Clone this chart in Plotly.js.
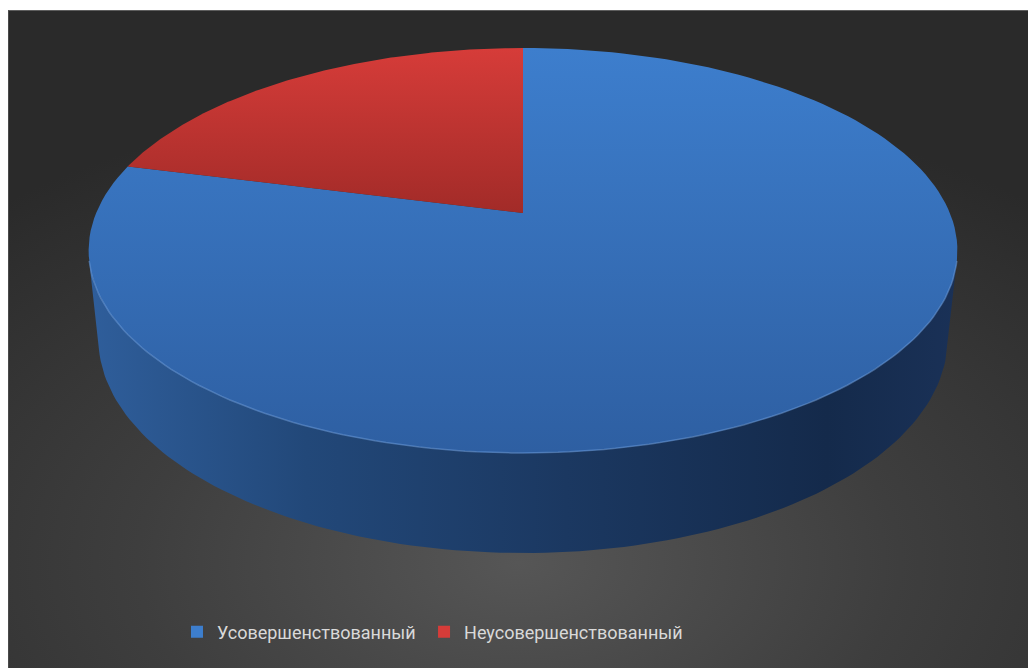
<!DOCTYPE html>
<html>
<head>
<meta charset="utf-8">
<script src="https://cdn.plot.ly/plotly-3.0.1.min.js"></script>
<style>
  html, body { margin: 0; padding: 0; background: #ffffff; }
  #chart {
    position: absolute; left: 8px; top: 10px; width: 1020px; height: 658px;
    box-sizing: border-box;
    border-top: 1px solid #5e5e5e; border-left: 1px solid #4a4a4a;
    background: radial-gradient(ellipse 78% 72% at 50% 84%, #565656 0%, #3e3e3e 48%, #2a2a2a 100%);
  }
</style>
</head>
<body>
<div id="chart"></div>
<script>
// Share of each category
const categories = ['Усовершенствованный', 'Неусовершенствованный'];
const values = [79, 21];

// Face colours per category (top face gradient: light -> dark)
const topColors = [['#3D7ECD', '#2E5FA2'], ['#D63C39', '#A22B28']];
const sideScales = [
  [[0, '#2F5E9B'], [0.25, '#224879'], [0.55, '#1B3861'], [0.85, '#142A4B'], [1, '#1A3157']],
  [[0, '#9E2A27'], [1, '#6E1C1A']]
];

// Perspective view of a flat cylinder (3D pie)
const view = { cx: 514, cy: 202, F: 2049, c: 0.889, s: 0.458, D: 4.8, h: 0.235 };

function project(t, z) {
  const x = Math.cos(t), y = Math.sin(t);
  const w = view.D + y * view.c - z * view.s;
  return [view.cx + x * view.F / w, view.cy - (y * view.s + z * view.c) * view.F / w];
}

function arc(t0, t1, z, n) {
  const pts = [];
  for (let i = 0; i <= n; i++) pts.push(project(t0 + (t1 - t0) * i / n, z));
  return pts;
}

const total = values.reduce((a, b) => a + b, 0);
const traces = [];
const sideTraces = [];
const topTraces = [];

// rim of the cylinder facing the viewer
const a = Math.asin(1 / (view.D * view.c));
let cum = 0;
values.forEach((v, i) => {
  const tStart = Math.PI / 2 - 2 * Math.PI * cum / total;
  const tEnd = Math.PI / 2 - 2 * Math.PI * (cum + v) / total;
  cum += v;

  // top face
  const pts = [[view.cx, view.cy]].concat(arc(tStart, tEnd, 0, 160));
  pts.push([view.cx, view.cy]);
  const ys = pts.map(p => p[1]);
  topTraces.push({
    type: 'scatter', mode: 'lines',
    x: pts.map(p => p[0]), y: ys,
    fill: 'toself', line: { width: 0, color: topColors[i][1] },
    fillgradient: {
      type: 'vertical',
      colorscale: [[0, topColors[i][0]], [1, topColors[i][1]]],
      start: Math.min(...ys), stop: Math.max(...ys)
    },
    hoverinfo: 'skip', showlegend: false
  });

  // side band, only where it faces the viewer
  const lo = Math.min(tStart, tEnd), hi = Math.max(tStart, tEnd);
  for (let k = -2; k <= 1; k++) {
    const vLo = Math.PI + a + 2 * Math.PI * k, vHi = 2 * Math.PI - a + 2 * Math.PI * k;
    const s0 = Math.max(lo, vLo), s1 = Math.min(hi, vHi);
    if (s1 > s0) {
      const side = arc(s0, s1, 0, 120).concat(arc(s1, s0, -view.h, 120));
      side.push(side[0]);
      const xs = side.map(p => p[0]);
      sideTraces.push({
        type: 'scatter', mode: 'lines',
        x: xs, y: side.map(p => p[1]),
        fill: 'toself', line: { width: 0, color: sideScales[i][1][1] },
        fillgradient: {
          type: 'horizontal', colorscale: sideScales[i],
          start: Math.min(...xs), stop: Math.max(...xs)
        },
        hoverinfo: 'skip', showlegend: false
      });
      // soft highlight along the front edge of the top face
      const rim = arc(s0, s1, 0, 120);
      topTraces.push({
        type: 'scatter', mode: 'lines',
        x: rim.map(p => p[0]), y: rim.map(p => p[1]),
        line: { width: 1.5, color: 'rgba(110,160,225,0.5)' },
        hoverinfo: 'skip', showlegend: false
      });
    }
  }
});

traces.push(...sideTraces, ...topTraces);

// legend entries, one legend box per category
const legendIds = ['legend', 'legend2'];
categories.forEach((name, i) => {
  traces.push({
    type: 'scatter', mode: 'markers', name: name,
    x: [null], y: [null], legend: legendIds[i],
    marker: { symbol: 'square', size: 12, color: topColors[i][0],
              line: { width: 0 } },
    hoverinfo: 'skip', showlegend: true
  });
});

const legendStyle = {
  orientation: 'h', xanchor: 'left', y: 0.056, yanchor: 'middle',
  font: { family: 'Roboto, sans-serif', size: 18, color: '#D9D9D9' },
  bgcolor: 'rgba(0,0,0,0)', itemclick: false, itemdoubleclick: false
};

const layout = {
  width: 1020, height: 658,
  margin: { l: 0, r: 0, t: 0, b: 0 },
  paper_bgcolor: 'rgba(0,0,0,0)',
  plot_bgcolor: 'rgba(0,0,0,0)',
  xaxis: { range: [0, 1020], visible: false, fixedrange: true },
  yaxis: { range: [658, 0], visible: false, fixedrange: true },
  showlegend: true,
  legend: Object.assign({ x: 0.1647 }, legendStyle),
  legend2: Object.assign({ x: 0.4069 }, legendStyle),
  hovermode: false
};

Plotly.newPlot('chart', traces, layout, { displayModeBar: false, staticPlot: true });
</script>
</body>
</html>
